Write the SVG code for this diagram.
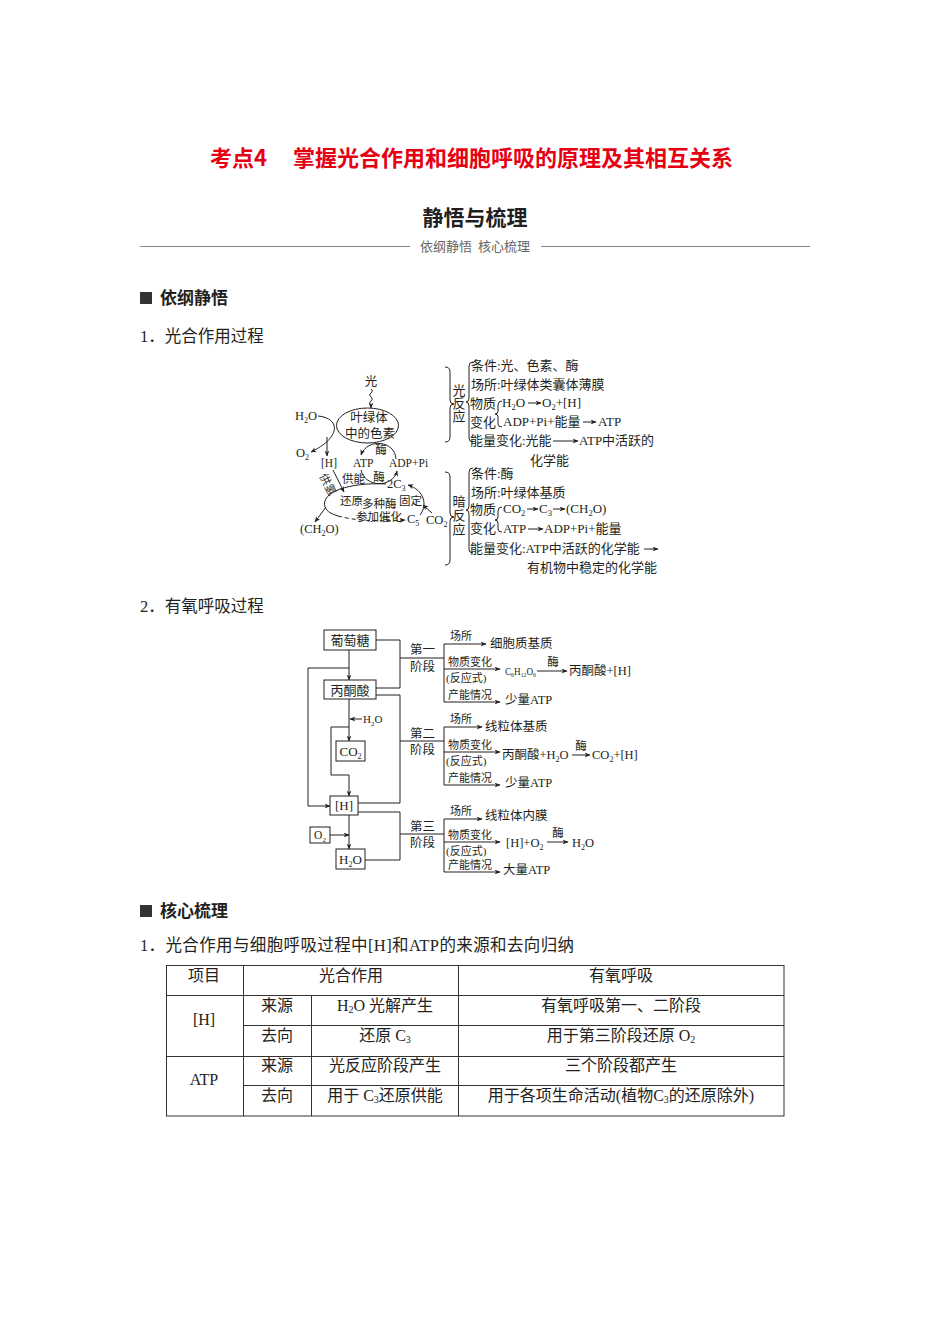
<svg xmlns="http://www.w3.org/2000/svg" width="950" height="1344" viewBox="0 0 950 1344">
<style>
text{font-family:"Liberation Serif","Noto Sans CJK SC",serif;fill:#231f20}
.h{font-family:"Noto Sans CJK SC",sans-serif}
.ttl{font-size:22px;font-weight:bold;fill:#e60012}
.sec{font-size:21px;font-weight:bold}
.sub{font-size:13px;fill:#666}
.hd{font-size:17px;font-weight:bold}
.body{font-size:16.5px}
.p{font-size:12.5px}
.p2{font-size:13px}
.q{font-size:11.5px}
.s{font-size:11px}
.r{font-size:12.5px}
.bx{font-size:13px}
.tb{font-size:16px;fill:#222}
.ln{fill:none;stroke:#231f20;stroke-width:1}
.ar{fill:none;stroke:#231f20;stroke-width:1;marker-end:url(#ah)}
.dash{stroke-dasharray:4 3}
.box{fill:#fff;stroke:#231f20;stroke-width:1}
.grid{stroke:#333;stroke-width:1;fill:none}
.rule{stroke:#888;stroke-width:1}
</style>
<defs>
<marker id="ah" viewBox="0 0 10 10" refX="9" refY="5" markerWidth="6" markerHeight="6" orient="auto" markerUnits="userSpaceOnUse"><path d="M0,1 L10,5 L0,9 L3,5 z" fill="#231f20"/></marker>
</defs>
<rect width="950" height="1344" fill="#fff"/>

<!-- Header -->
<text class="ttl h" x="210" y="166">考点4</text>
<text class="ttl h" x="293" y="166">掌握光合作用和细胞呼吸的原理及其相互关系</text>
<text class="sec h" x="475" y="225" text-anchor="middle">静悟与梳理</text>
<line class="rule" x1="140" y1="246.5" x2="410" y2="246.5"/>
<line class="rule" x1="541" y1="246.5" x2="810" y2="246.5"/>
<text class="sub h" x="475" y="251" text-anchor="middle" xml:space="preserve">依纲静悟  核心梳理</text>

<rect x="140" y="292" width="12" height="12" fill="#333"/>
<text class="hd h" x="160" y="304">依纲静悟</text>
<text class="body" x="140" y="342">1．光合作用过程</text>

<!-- Photosynthesis diagram -->
<g id="photosynthesis">
<text class="p" x="371" y="386" text-anchor="middle">光</text>
<path class="ar" d="M371,389 q3,2 0,4 q-3,2 0,4 q3,2 0,4 q-3,2 0,4 L371,408"/>
<ellipse cx="367.5" cy="425.5" rx="31" ry="17.5" class="ln"/>
<text class="p" x="369" y="422" text-anchor="middle">叶绿体</text>
<text class="p" x="370" y="438" text-anchor="middle">中的色素</text>
<text class="p" x="295" y="420">H<tspan font-size="8" dy="3">2</tspan><tspan dy="-3">O</tspan></text>
<path class="ar" d="M318,416 C340,418 342,437 311,452"/>
<text class="p" x="296" y="457">O<tspan font-size="8" dy="3">2</tspan></text>
<path class="ar" d="M327,437 L327,456"/>
<text class="q" x="321" y="467">[H]</text>
<text class="q" x="353" y="467">ATP</text>
<text class="q" x="389" y="467">ADP+Pi</text>
<path class="ar" d="M396,459 C395,440 367,438 361,455"/>
<text class="q" x="381" y="454" text-anchor="middle">酶</text>
<path class="ar" d="M361,470 C365,488 393,488 397,471"/>
<text class="q" x="379" y="481" text-anchor="middle">酶</text>
<path class="ar" d="M333,470 L344,492"/>
<text class="q" transform="translate(319,476) rotate(63)">供氢</text>
<text class="q" x="342" y="483">供能</text>
<text class="p" x="387" y="488">2C<tspan font-size="8" dy="3">3</tspan></text>
<path class="ln" d="M386,484 C350,482 320,492 325,507 C327,512 332,514 338,516"/>
<path class="ar dash" d="M338,516 C360,522 385,521 405,520"/>
<path class="ar" d="M420,515 C428,505 424,490 408,485"/>
<path class="ar" d="M432,513 L423,505"/>
<text class="q" x="340" y="505">还原</text>
<text class="q" x="362" y="508">多种酶</text>
<text class="q" x="399" y="505">固定</text>
<text class="q" x="356" y="521">参加催化</text>
<text class="p" x="407" y="523">C<tspan font-size="8" dy="3">5</tspan></text>
<text class="p" x="426" y="524">CO<tspan font-size="8" dy="3">2</tspan></text>
<path class="ar" d="M326,507 L315,522"/>
<text class="p" x="300" y="533">(CH<tspan font-size="8" dy="3">2</tspan><tspan dy="-3">O)</tspan></text>

<!-- light reaction -->
<path class="ln" d="M445,367 Q450,367 450,372 L450,400 Q450,404 454,404 Q450,404 450,408 L450,437 Q450,442 445,442"/>
<text class="p2" x="459" y="395" text-anchor="middle">光</text>
<text class="p2" x="459" y="408" text-anchor="middle">反</text>
<text class="p2" x="459" y="421" text-anchor="middle">应</text>
<path class="ln" d="M473,362 Q469,362 469,366 L469,398 Q469,402 466,402 Q469,402 469,406 L469,438 Q469,442 473,442"/>
<text class="p2" x="471" y="370">条件:光、色素、酶</text>
<text class="p2" x="471" y="389">场所:叶绿体类囊体薄膜</text>
<text class="p2" x="470" y="408">物质</text>
<text class="p2" x="470" y="427">变化</text>
<path class="ln" d="M502,401 Q498,401 498,405 L498,411 Q498,414 495,414 Q498,414 498,417 L498,424 Q498,427 502,427"/>
<text class="p2" x="502" y="407">H<tspan font-size="8.5" dy="3">2</tspan><tspan dy="-3">O</tspan></text>
<path class="ar" d="M528,403 L541,403"/>
<text class="p2" x="542" y="407">O<tspan font-size="8.5" dy="3">2</tspan><tspan dy="-3">+[H]</tspan></text>
<text class="p2" x="503" y="426">ADP+Pi+能量</text>
<path class="ar" d="M583,422 L596,422"/>
<text class="p2" x="598" y="426">ATP</text>
<text class="p2" x="470" y="445">能量变化:光能</text>
<path class="ar" d="M553,441 L578,441"/>
<text class="p2" x="579" y="445">ATP中活跃的</text>
<text class="p2" x="530" y="465">化学能</text>

<!-- dark reaction -->
<path class="ln" d="M445,472 Q450,472 450,477 L450,513 Q450,517 454,517 Q450,517 450,521 L450,560 Q450,565 445,565"/>
<text class="p2" x="459" y="506" text-anchor="middle">暗</text>
<text class="p2" x="459" y="520" text-anchor="middle">反</text>
<text class="p2" x="459" y="534" text-anchor="middle">应</text>
<path class="ln" d="M473,468 Q469,468 469,472 L469,506 Q469,510 466,510 Q469,510 469,514 L469,549 Q469,553 473,553"/>
<text class="p2" x="471" y="478">条件:酶</text>
<text class="p2" x="471" y="497">场所:叶绿体基质</text>
<text class="p2" x="470" y="514">物质</text>
<text class="p2" x="470" y="533">变化</text>
<path class="ln" d="M502,507 Q498,507 498,511 L498,517 Q498,520 495,520 Q498,520 498,523 L498,529 Q498,532 502,532"/>
<text class="p2" x="503" y="513">CO<tspan font-size="8.5" dy="3">2</tspan></text>
<path class="ar" d="M527,509 L538,509"/>
<text class="p2" x="539" y="513">C<tspan font-size="8.5" dy="3">3</tspan></text>
<path class="ar" d="M553,509 L565,509"/>
<text class="p2" x="566" y="513">(CH<tspan font-size="8.5" dy="3">2</tspan><tspan dy="-3">O)</tspan></text>
<text class="p2" x="503" y="533">ATP</text>
<path class="ar" d="M528,529 L543,529"/>
<text class="p2" x="544" y="533">ADP+Pi+能量</text>
<text class="p2" x="470" y="553">能量变化:ATP中活跃的化学能</text>
<path class="ar" d="M644,549 L658,549"/>
<text class="p2" x="527" y="572">有机物中稳定的化学能</text>
</g>

<text class="body" x="140" y="612">2．有氧呼吸过程</text>

<!-- Respiration diagram -->
<g id="resp-connectors">
<path class="ar" d="M349,650 L349,680"/>
<path class="ar" d="M349,668 L308,668 L308,806 L330,806"/>
<path class="ar" d="M349,699 L349,741"/>
<path class="ar" d="M362,719 L350,719"/>
<path class="ar" d="M349,727 L331,727 L331,775 L349,775 L349,796"/>
<path class="ar" d="M349,815 L349,849"/>
<path class="ar" d="M330,835 L349,835"/>
<path class="ln" d="M376,640 L400,640 L400,688 L376,688"/>
<path class="ln" d="M400,658 L444,658"/>
<path class="ln" d="M376,695 L400,695 L400,803 L358,803"/>
<path class="ln" d="M400,741 L444,741"/>
<path class="ln" d="M358,812 L400,812 L400,860 L365,860"/>
<path class="ln" d="M400,834 L444,834"/>
<!-- stage 1 -->
<path class="ln" d="M444,644 L444,702"/>
<path class="ar" d="M444,644 L486,644"/>
<path class="ar" d="M444,669 L500,669"/>
<path class="ar" d="M444,702 L500,702"/>
<path class="ar" d="M537,671 L567,671"/>
<!-- stage 2 -->
<path class="ln" d="M444,727 L444,785"/>
<path class="ar" d="M444,727 L482,727"/>
<path class="ar" d="M444,752 L500,752"/>
<path class="ar" d="M444,785 L500,785"/>
<path class="ar" d="M572,755 L590,755"/>
<!-- stage 3 -->
<path class="ln" d="M444,819 L444,872"/>
<path class="ar" d="M444,819 L482,819"/>
<path class="ar" d="M444,842 L500,842"/>
<path class="ar" d="M444,872 L500,872"/>
<path class="ar" d="M547,842 L568,842"/>
</g>
<g id="glucose"><rect class="box" x="324" y="630" width="52" height="20"/><text class="bx" x="350" y="645" text-anchor="middle">葡萄糖</text></g>
<g id="pyruvate"><rect class="box" x="324" y="680" width="52" height="19"/><text class="bx" x="350" y="694.5" text-anchor="middle">丙酮酸</text></g>
<g id="co2"><rect class="box" x="336" y="741" width="29" height="20"/><text class="bx" x="350.5" y="756" text-anchor="middle">CO<tspan font-size="8" dy="3">2</tspan></text></g>
<g id="h"><rect class="box" x="330" y="796" width="28" height="19"/><text class="bx" x="344" y="810" text-anchor="middle">[H]</text></g>
<g id="o2"><rect class="box" x="310" y="827" width="20" height="16"/><text class="q" x="320" y="839" text-anchor="middle">O<tspan font-size="7" dy="3">2</tspan></text></g>
<g id="h2o"><rect class="box" x="336" y="849" width="29" height="20"/><text class="bx" x="350.5" y="864" text-anchor="middle">H<tspan font-size="8" dy="3">2</tspan><tspan dy="-3">O</tspan></text></g>
<text class="s" x="363" y="723">H<tspan font-size="7" dy="3">2</tspan><tspan dy="-3">O</tspan></text>

<g id="stage1">
<text class="r" x="410" y="654">第一</text>
<text class="r" x="410" y="671">阶段</text>
<text class="s" x="450" y="640">场所</text>
<text class="r" x="490" y="648">细胞质基质</text>
<text class="s" x="448" y="666">物质变化</text>
<text class="s" x="446" y="682">(反应式)</text>
<text class="s" x="448" y="699">产能情况</text>
<text x="505" y="675" font-size="11" textLength="31" lengthAdjust="spacingAndGlyphs">C<tspan font-size="7" dy="2">6</tspan><tspan dy="-2">H</tspan><tspan font-size="7" dy="2">12</tspan><tspan dy="-2">O</tspan><tspan font-size="7" dy="2">6</tspan></text>
<text class="q" x="553" y="666" text-anchor="middle">酶</text>
<text class="r" x="569" y="675">丙酮酸+[H]</text>
<text class="r" x="505" y="704">少量ATP</text>
</g>
<g id="stage2">
<text class="r" x="410" y="738">第二</text>
<text class="r" x="410" y="754">阶段</text>
<text class="s" x="450" y="723">场所</text>
<text class="r" x="485" y="731">线粒体基质</text>
<text class="s" x="448" y="749">物质变化</text>
<text class="s" x="446" y="765">(反应式)</text>
<text class="s" x="448" y="782">产能情况</text>
<text class="r" x="502" y="759">丙酮酸+H<tspan font-size="8" dy="3">2</tspan><tspan dy="-3">O</tspan></text>
<text class="q" x="581" y="750" text-anchor="middle">酶</text>
<text class="r" x="592" y="759">CO<tspan font-size="8" dy="3">2</tspan><tspan dy="-3">+[H]</tspan></text>
<text class="r" x="505" y="787">少量ATP</text>
</g>
<g id="stage3">
<text class="r" x="410" y="831">第三</text>
<text class="r" x="410" y="847">阶段</text>
<text class="s" x="450" y="815">场所</text>
<text class="r" x="485" y="820">线粒体内膜</text>
<text class="s" x="448" y="839">物质变化</text>
<text class="s" x="446" y="855">(反应式)</text>
<text class="s" x="448" y="869">产能情况</text>
<text class="r" x="506" y="847">[H]+O<tspan font-size="8" dy="3">2</tspan></text>
<text class="q" x="558" y="837" text-anchor="middle">酶</text>
<text class="r" x="572" y="847">H<tspan font-size="8" dy="3">2</tspan><tspan dy="-3">O</tspan></text>
<text class="r" x="503" y="874">大量ATP</text>
</g>

<!-- Section 2 -->
<rect x="140" y="905" width="12" height="12" fill="#333"/>
<text class="hd h" x="160" y="917">核心梳理</text>
<text class="body" x="140" y="951" textLength="434" lengthAdjust="spacing">1．光合作用与细胞呼吸过程中[H]和ATP的来源和去向归纳</text>

<g id="table">
<rect class="grid" x="166.5" y="965.5" width="617.5" height="150.5"/>
<line class="grid" x1="243.5" y1="965.5" x2="243.5" y2="1116"/>
<line class="grid" x1="311.5" y1="995.5" x2="311.5" y2="1116"/>
<line class="grid" x1="458.5" y1="965.5" x2="458.5" y2="1116"/>
<line class="grid" x1="166.5" y1="995.5" x2="784" y2="995.5"/>
<line class="grid" x1="243.5" y1="1025.5" x2="784" y2="1025.5"/>
<line class="grid" x1="166.5" y1="1056.5" x2="784" y2="1056.5"/>
<line class="grid" x1="243.5" y1="1085.5" x2="784" y2="1085.5"/>
<text class="tb" x="204" y="981" text-anchor="middle">项目</text>
<text class="tb" x="351" y="981" text-anchor="middle">光合作用</text>
<text class="tb" x="621" y="981" text-anchor="middle">有氧呼吸</text>
<text class="tb" x="204" y="1025" text-anchor="middle">[H]</text>
<text class="tb" x="277" y="1011" text-anchor="middle">来源</text>
<text class="tb" x="385" y="1011" text-anchor="middle">H<tspan font-size="10" dy="2">2</tspan><tspan dy="-2">O 光解产生</tspan></text>
<text class="tb" x="621" y="1011" text-anchor="middle">有氧呼吸第一、二阶段</text>
<text class="tb" x="277" y="1041" text-anchor="middle">去向</text>
<text class="tb" x="385" y="1041" text-anchor="middle">还原 C<tspan font-size="10" dy="2">3</tspan></text>
<text class="tb" x="621" y="1041" text-anchor="middle">用于第三阶段还原 O<tspan font-size="10" dy="2">2</tspan></text>
<text class="tb" x="204" y="1085" text-anchor="middle">ATP</text>
<text class="tb" x="277" y="1071" text-anchor="middle">来源</text>
<text class="tb" x="385" y="1071" text-anchor="middle">光反应阶段产生</text>
<text class="tb" x="621" y="1071" text-anchor="middle">三个阶段都产生</text>
<text class="tb" x="277" y="1101" text-anchor="middle">去向</text>
<text class="tb" x="385" y="1101" text-anchor="middle">用于 C<tspan font-size="10" dy="2">3</tspan><tspan dy="-2">还原供能</tspan></text>
<text class="tb" x="621" y="1101" text-anchor="middle">用于各项生命活动(植物C<tspan font-size="10" dy="2">3</tspan><tspan dy="-2">的还原除外)</tspan></text>
</g>
</svg>
